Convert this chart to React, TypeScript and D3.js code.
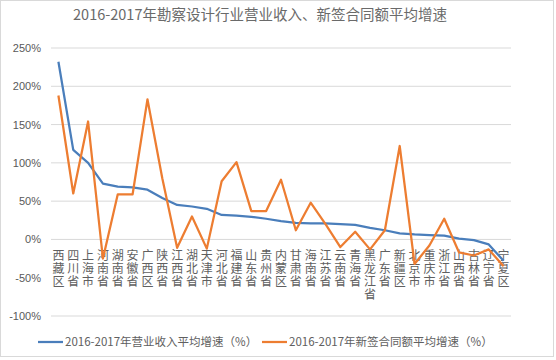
import React from "react";
import * as d3 from "d3";

const categories = ["西藏区","四川省","上海市","河南省","湖南省","安徽省","广西区","陕西省","江西省","湖北省","天津市","河北省","福建省","山东省","贵州省","内蒙区","甘肃省","海南省","江苏省","云南省","青海省","黑龙江省","广东省","新疆区","北京市","重庆市","浙江省","山西省","吉林省","辽宁省","宁夏区"];
const revenueGrowth = [232, 117, 100, 73, 69, 68, 65, 54, 45, 43, 40, 32, 31, 29.5, 27, 24, 21.5, 21, 21, 20, 19, 15, 12, 8, 6.5, 5.6, 5, 1, -1, -6.5, -28];
const contractGrowth = [188, 60, 154, -25, 59, 59, 183, 80, -11, 30, -12, 76, 101, 37, 37, 78, 12, 48, 20, -10, 10, -13, 12, 122, -32, -8, 27, -17, -21, -13, -35];
const yTicks = [-100, -50, 0, 50, 100, 150, 200, 250];
const title = "2016-2017年勘察设计行业营业收入、新签合同额平均增速";
const legendLabels = ["2016-2017年营业收入平均增速（%）", "2016-2017年新签合同额平均增速（%）"];

const W = 556, H = 360;
const BLUE = "#4a7ebb";
const ORANGE = "#ed7d31";
const FONT = "'Noto Sans CJK SC', 'Noto Sans', sans-serif";

export default function App() {
  const x = d3.scaleBand<string>().domain(categories).range([51, 511]);
  const cx = (c: string) => (x(c) as number) + x.bandwidth() / 2;
  const y = d3.scaleLinear().domain([-100, 250]).range([316, 48]);
  const line = d3.line<number>().x((_, i) => cx(categories[i])).y((d) => y(d));

  return (
    <svg width={W} height={H} style={{ position: "absolute", left: 0, top: 0, background: "#fff" }}>
      <rect x={0.5} y={0.5} width={W - 3} height={H - 4} fill="#fff" stroke="#d9d9d9" />
      <text x={260} y={20} textAnchor="middle" fontFamily={FONT} fontSize={14.5} fill="#6a6a6a">{title}</text>
      {yTicks.map((t) => (
        <g key={t}>
          <line x1={51} x2={511} y1={y(t)} y2={y(t)} stroke="#d9d9d9" strokeWidth={1} />
          <text x={41} y={y(t) + 4} textAnchor="end" fontFamily="'Liberation Sans', Arial, sans-serif" fontSize={11} fill="#595959">{t}%</text>
        </g>
      ))}
      <rect x={51} y={247} width={460} height={52} fill="#fff" />
      {categories.map((c) => (
        <text key={c} x={cx(c)} y={249.5} textAnchor="start" fontFamily={FONT} fontSize={12} fill="#606060"
          style={{ writingMode: "vertical-rl", letterSpacing: "1px" } as any}>{c}</text>
      ))}
      <path d={line(revenueGrowth) || ""} fill="none" stroke={BLUE} strokeWidth={2.25} strokeLinejoin="round" />
      <path d={line(contractGrowth) || ""} fill="none" stroke={ORANGE} strokeWidth={2.25} strokeLinejoin="round" />
      <g fontFamily={FONT} fontSize={11.5} fill="#606060">
        <line x1={38} x2={63} y1={342} y2={342} stroke={BLUE} strokeWidth={2.25} />
        <text x={65} y={346}>{legendLabels[0]}</text>
        <line x1={262} x2={287} y1={342} y2={342} stroke={ORANGE} strokeWidth={2.25} />
        <text x={289} y={346}>{legendLabels[1]}</text>
      </g>
    </svg>
  );
}
